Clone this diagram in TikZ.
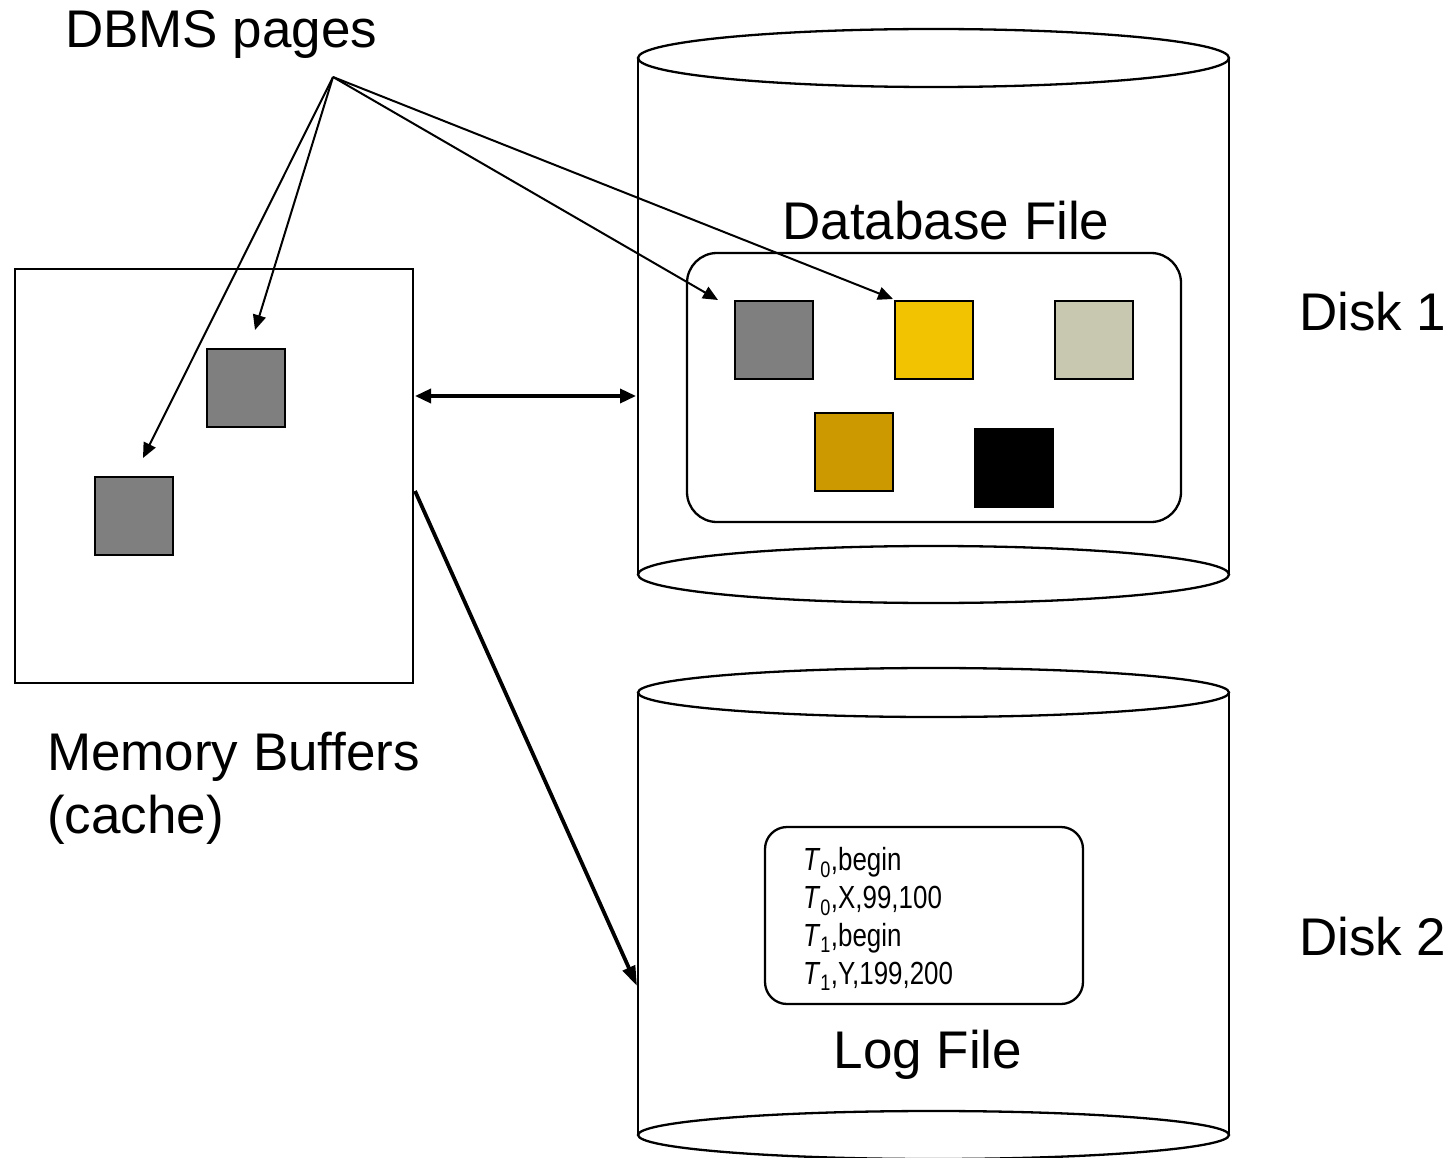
\documentclass[tikz,border=0pt]{standalone}
\usepackage{fontspec}
\setmainfont{Liberation Sans}
\newfontfamily\narrowfont[FakeStretch=0.81]{Liberation Sans}
\usetikzlibrary{arrows.meta}
\definecolor{pgray}{HTML}{7F7F7F}
\definecolor{pyellow}{HTML}{F2C300}
\definecolor{pbeige}{HTML}{C8C8B0}
\definecolor{porange}{HTML}{CC9900}
\begin{document}
\begin{tikzpicture}[x=1pt,y=-1pt,
  outline/.style={draw=black,line width=2.3pt},
  page/.style={draw=black,line width=2.6pt,minimum width=78pt,minimum height=78pt,inner sep=0pt,outer sep=0pt},
  bigtext/.style={font=\fontsize{53}{60}\selectfont,inner sep=0pt,outer sep=0pt},
  logtext/.style={font=\narrowfont\fontsize{32}{38}\selectfont,inner sep=0pt,outer sep=0pt,anchor=base west},
  ptr/.style={-{Triangle[length=15pt,width=13pt]},line width=2pt},
  iolink/.style={{Triangle[length=16pt,width=14pt]}-{Triangle[length=16pt,width=14pt]},line width=3.5pt},
  loglink/.style={-{Triangle[length=20pt,width=13pt]},line width=3.8pt}]
\useasboundingbox (0,0) rectangle (1453,1158);

% Disk 1 cylinder
\draw[outline] (638,58) -- (638,574.5) (1229,58) -- (1229,574.5);
\draw[outline,fill=white] (933.5,58) ellipse [x radius=295.5pt,y radius=29pt];
\draw[outline,fill=white] (933.5,574.5) ellipse [x radius=295.5pt,y radius=28.5pt];

% Disk 2 cylinder
\draw[outline] (638,692.5) -- (638,1135) (1229,692.5) -- (1229,1135);
\draw[outline,fill=white] (933.5,692.5) ellipse [x radius=295.5pt,y radius=24.5pt];
\draw[outline,fill=white] (933.5,1135) ellipse [x radius=295.5pt,y radius=24pt];

% Memory buffers
\node[outline,minimum width=398pt,minimum height=414pt,inner sep=0pt] (mem) at (214,476) {};
\node[page,fill=pgray] (m1) at (246,388) {};
\node[page,fill=pgray] (m2) at (134,516) {};

% Database file
\node[outline,rounded corners=30pt,minimum width=494pt,minimum height=269pt,inner sep=0pt] (dbf) at (934,387.5) {};
\node[page,fill=pgray] (d1) at (774,340) {};
\node[page,fill=pyellow] (d2) at (934,340) {};
\node[page,fill=pbeige] (d3) at (1094,340) {};
\node[page,fill=porange] (d4) at (854,452) {};
\node[page,fill=black,draw=black] (d5) at (1014,468) {};

% Log file
\node[outline,rounded corners=22pt,minimum width=318pt,minimum height=177pt,inner sep=0pt] (logb) at (924,915.5) {};
\node[logtext] (l1) at (803,870) {\textit{T}\textsubscript{0},begin};
\node[logtext] (l2) at (803,908) {\textit{T}\textsubscript{0},X,99,100};
\node[logtext] (l3) at (803,946) {\textit{T}\textsubscript{1},begin};
\node[logtext] (l4) at (803,984) {\textit{T}\textsubscript{1},Y,199,200};

% Labels
\node[bigtext,anchor=base west] (dbms) at (65,48) {DBMS pages};
\node[bigtext,anchor=base] (dbfl) at (946,240) {Database File};
\node[bigtext,anchor=base] (logl) at (928,1068) {Log File};
\node[bigtext,anchor=base west] (disk1) at (1299,330) {Disk 1};
\node[bigtext,anchor=base west] (disk2) at (1299,955) {Disk 2};
\node[bigtext,anchor=base west] (meml1) at (47,770) {Memory Buffers};
\node[bigtext,anchor=base west] (meml2) at (47,833) {(cache)};

% Connectors
\coordinate (src) at (333,77);
\coordinate (tA) at (143,458);
\coordinate (tB) at (255,330);
\coordinate (tC) at (718,300);
\coordinate (tD) at (893,299);
\draw[ptr] (src) -- (tA);
\draw[ptr] (src) -- (tB);
\draw[ptr] (src) -- (tC);
\draw[ptr] (src) -- (tD);

\coordinate (ioL) at (415,396);
\coordinate (ioR) at (636,396);
\draw[iolink] (ioL) -- (ioR);

\coordinate (wlS) at (415,491);
\coordinate (wlE) at (637,986);
\draw[loglink] (wlS) -- (wlE);
\end{tikzpicture}
\end{document}
